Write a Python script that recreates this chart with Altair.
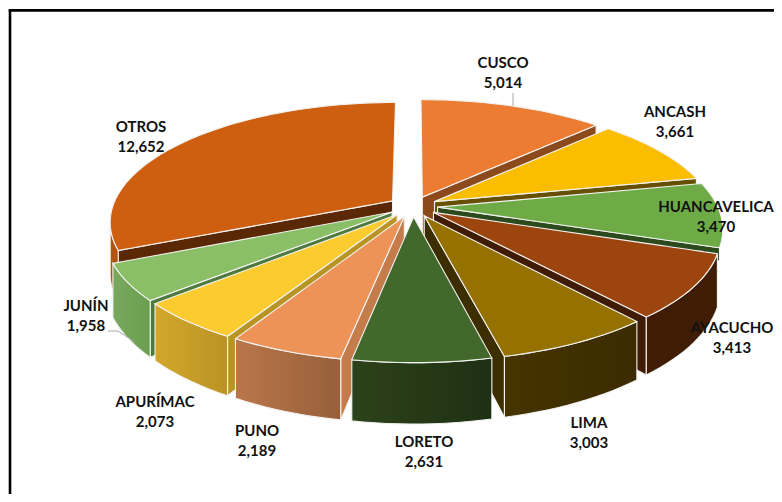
import math
import altair as alt
import pandas as pd

names = ["CUSCO", "ANCASH", "HUANCAVELICA", "AYACUCHO", "LIMA", "LORETO", "PUNO", "APURÍMAC", "JUNÍN", "OTROS"]
values = [5014, 3661, 3470, 3413, 3003, 2631, 2189, 2073, 1958, 12652]
tops = ["#EC7C32", "#FBBD00", "#6EAB47", "#9C450E", "#957100", "#43682B", "#EE9358", "#FBCB2F", "#8ABF68", "#CF5F10"]
walls = [("#8C4A1C", "#8C4A1C"), ("#665000", "#665000"), ("#2C4A1C", "#2C4A1C"), ("#401C04", "#3F1D05"),
         ("#463400", "#3B2B00"), ("#2C421A", "#1E3013"), ("#BA764A", "#96603A"), ("#D2A72A", "#BA9325"),
         ("#78A85C", "#6B9F50"), ("#B4530F", "#B4530F")]
faces = ["#8C4A1C", "#665000", "#2C4A1C", "#401C04", "#3D2E00", "#2C421A", "#C47C4A", "#B89424", "#4F7A3D", "#5A2805"]
label_x = [503, 675, 716, 732, 589, 424, 257, 155, 86, 141]
label_y = [63, 112, 207, 328, 423, 442, 431, 402, 306, 127]
LINE = 20

CX, CY, RX, RY, K, EXPL, DEPTH = 413, 206.5, 280, 117, 0.17, 0.088, 50
xs = alt.Scale(domain=[8, 774], range=[0, 766])
ys = alt.Scale(domain=[8, 494], range=[0, 486])


def project(u, v, drop=0.0):
    s = 1 / (1 - K * v)
    return CX + RX * u * s, CY + RY * v * s + drop * s


def envelope(pts):
    order = sorted({round(p[0], 2) for p in pts})
    rows = []
    n = len(pts)
    for x in order:
        hits = []
        for i in range(n):
            (x0, y0), (x1, y1) = pts[i], pts[(i + 1) % n]
            lo, hi = min(x0, x1), max(x0, x1)
            if lo - 0.01 <= x <= hi + 0.01:
                if abs(x1 - x0) < 1e-6:
                    hits += [y0, y1]
                else:
                    hits.append(y0 + (y1 - y0) * (x - x0) / (x1 - x0))
        rows.append({"x": x, "y": min(hits), "y2": max(hits)})
    return pd.DataFrame(rows)


def area(df, fill):
    return alt.Chart(df).mark_area(color=fill, orient="vertical", stroke="#F2F2F2", strokeWidth=1.1).encode(
        x=alt.X("x:Q", scale=xs, axis=None),
        y=alt.Y("y:Q", scale=ys, axis=None),
        y2="y2:Q",
    )


total = sum(values)
layers = []
start = 0.0
slices = []
for i, val in enumerate(values):
    a = start / total * 2 * math.pi
    b = (start + val) / total * 2 * math.pi
    start += val
    slices.append((i, a, b))

turn = math.acos(-K)
for i, a, b in sorted(slices, key=lambda t: -math.cos((t[1] + t[2]) / 2)):
    mid = (a + b) / 2
    ex, ey = EXPL * math.sin(mid), -EXPL * math.cos(mid)
    rim = lambda t: (ex + math.sin(t), ey - math.cos(t))
    steps = max(6, int((b - a) * 30))
    angles = [a + (b - a) * j / steps for j in range(steps + 1)]
    # radial face on the side turned towards the viewer
    if i != 5:
        t = b if mid < math.pi else a
        p, q = (ex, ey), rim(t)
        face = [project(*p), project(*q), project(*q, DEPTH * (0.25 if i == 2 else 1)), project(*p, DEPTH * (0.25 if i == 2 else 1))]
        layers.append(area(envelope(face), faces[i]))
    # outer wall (the sliver of HUANCAVELICA's wall does not show in the reference)
    lo, hi = max(a, turn), min(b, 2 * math.pi - turn)
    if hi > lo and i != 2:
        wsteps = max(4, int((hi - lo) * 30))
        rows = []
        for j in range(wsteps + 1):
            t = lo + (hi - lo) * j / wsteps
            px, py = project(*rim(t))
            _, py2 = project(*rim(t), DEPTH)
            rows.append({"x": px, "y": py, "y2": py2})
        rows.sort(key=lambda r: r["x"])
        fill = alt.Gradient(gradient="linear", x1=0, x2=1, y1=0, y2=0,
                            stops=[alt.GradientStop(color=walls[i][0], offset=0),
                                   alt.GradientStop(color=walls[i][1], offset=1)])
        layers.append(area(pd.DataFrame(rows), fill))
    # top surface
    poly = [project(ex, ey)] + [project(*rim(t)) for t in angles]
    layers.append(area(envelope(poly), tops[i]))

# leader lines
leaders = [[(513, 93), (513, 106)], [(108, 331), (118, 331), (135, 342)]]
for seg in leaders:
    layers.append(alt.Chart(pd.DataFrame([{"x": p[0], "y": p[1]} for p in seg])).mark_line(color="#A6A6A6", strokeWidth=1).encode(
        x=alt.X("x:Q", scale=xs, axis=None), y=alt.Y("y:Q", scale=ys, axis=None)))

# labels
lab = pd.DataFrame({
    "x": label_x * 2,
    "y": label_y + [v + LINE for v in label_y],
    "t": names + [f"{v:,}" for v in values],
})
layers.append(alt.Chart(lab).mark_text(font="Lato", fontWeight="bold", fontSize=15, color="#111111").encode(
    x=alt.X("x:Q", scale=xs, axis=None), y=alt.Y("y:Q", scale=ys, axis=None), text="t:N"))

# frame
layers.append(alt.Chart(pd.DataFrame({"x": [10], "y": [10], "y2": [494]})).mark_rule(color="#000000", strokeWidth=2.6).encode(
    x=alt.X("x:Q", scale=xs, axis=None), y=alt.Y("y:Q", scale=ys, axis=None), y2="y2:Q"))
layers.append(alt.Chart(pd.DataFrame({"x": [8.7], "x2": [774], "y": [10.4]})).mark_rule(color="#000000", strokeWidth=2.6).encode(
    x=alt.X("x:Q", scale=xs, axis=None), x2="x2:Q", y=alt.Y("y:Q", scale=ys, axis=None)))

chart = alt.layer(*layers).properties(
    width=766, height=486, padding=0, autosize=alt.AutoSizeParams(type="none"), background="white"
).configure_view(stroke=None)
chart.save("out.html", embed_options={"renderer": "svg", "actions": False})
